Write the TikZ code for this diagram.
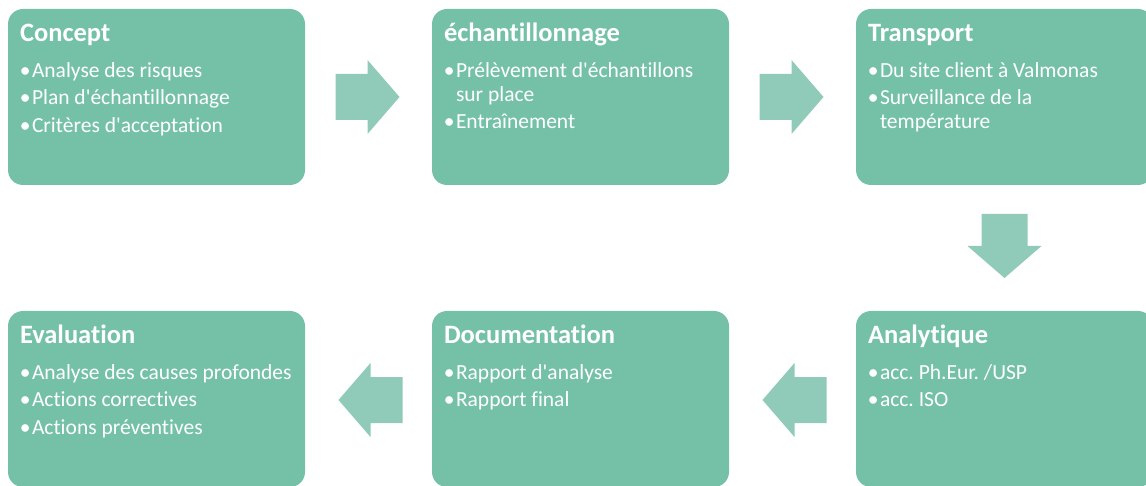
\documentclass[tikz,border=0pt]{standalone}
\usepackage{fontspec}
\setmainfont{Carlito}[Ligatures={NoCommon}]
\usetikzlibrary{calc}
\frenchspacing

\definecolor{boxgreen}{HTML}{75C1A8}
\definecolor{arrowgreen}{HTML}{8FCBB8}

\tikzset{
  x=1pt, y=1pt,
  stage/.style={rounded corners=15pt, fill=boxgreen, draw=none,
    minimum width=297pt, minimum height=176pt, inner sep=0pt},
  stagetitle/.style={anchor=base west, inner sep=0pt, text=white,
    font=\fontsize{26.5}{30}\selectfont\bfseries},
  itemtext/.style={anchor=base west, inner sep=0pt, text=white,
    font=\fontsize{21.5}{25}\selectfont},
  bulletmark/.style={anchor=base, inner sep=0pt, text=white,
    font=\fontsize{21.5}{25}\selectfont},
  blockarrow/.pic={
    \fill[arrowgreen] (-32,-23) -- (0,-23) -- (0,-37) -- (32,0)
      -- (0,37) -- (0,23) -- (-32,23) -- cycle;
  }
}

\newcommand\ap{\textquotesingle}
% title of a stage box: #1 box, #2 text
\newcommand\stagehead[2]{%
  \node[stagetitle] (#1-title) at ($(#1.north west)+(12,-33)$) {#2};}
% bulleted line: #1 box, #2 line name, #3 baseline offset, #4 text
\newcommand\stageitem[4]{%
  \node[bulletmark] (#1-#2-dot) at ($(#1.north west)+(17.5,-#3)$) {•};
  \node[itemtext] (#1-#2) at ($(#1.north west)+(24,-#3)$) {#4};}
% continuation line without bullet
\newcommand\stagewrap[4]{%
  \node[itemtext] (#1-#2) at ($(#1.north west)+(24,-#3)$) {#4};}

\begin{document}
\begin{tikzpicture}
\useasboundingbox (0,0) rectangle (1146,-486);

% stage boxes
\node[stage] (concept)   at (156.5,-97)  {};
\node[stage] (sampling)  at (580.5,-97)  {};
\node[stage] (transport) at (1004.5,-97) {};
\node[stage] (eval)      at (156.5,-399) {};
\node[stage] (docu)      at (580.5,-399) {};
\node[stage] (analytic)  at (1004.5,-399) {};

% flow arrows between the stages
\coordinate (a1) at ($(concept.east)!0.5!(sampling.west)$);
\coordinate (a2) at ($(sampling.east)!0.5!(transport.west)$);
\coordinate (a3) at ($(transport.south)!0.5!(analytic.north)$);
\coordinate (a4) at ($(analytic.west)!0.5!(docu.east)$);
\coordinate (a5) at ($(docu.west)!0.5!(eval.east)$);
\pic at ($(a1)+(-1,0)$) {blockarrow};
\pic at ($(a2)+(-1,0)$) {blockarrow};
\pic[rotate=-90] at ($(a3)+(0,2)$) {blockarrow};
\pic[rotate=180] at ($(a4)+(2,-1)$) {blockarrow};
\pic[rotate=180] at ($(a5)+(2,-1)$) {blockarrow};

% texts
\stagehead{concept}{Concept}
\stageitem{concept}{l1}{69}{Analyse des risques}
\stageitem{concept}{l2}{96}{Plan d\ap échantillonnage}
\stageitem{concept}{l3}{123.5}{Critères d\ap acceptation}

\stagehead{sampling}{échantillonnage}
\stageitem{sampling}{l1}{69}{Prélèvement d\ap échantillons}
\stagewrap{sampling}{l1b}{93}{sur place}
\stageitem{sampling}{l2}{119.5}{Entraînement}

\stagehead{transport}{Transport}
\stageitem{transport}{l1}{69}{Du site client à Valmonas}
\stageitem{transport}{l2}{96}{Surveillance de la}
\stagewrap{transport}{l2b}{120}{température}

\stagehead{eval}{Evaluation}
\stageitem{eval}{l1}{69}{Analyse des causes profondes}
\stageitem{eval}{l2}{96}{Actions correctives}
\stageitem{eval}{l3}{123.5}{Actions préventives}

\stagehead{docu}{Documentation}
\stageitem{docu}{l1}{69}{Rapport d\ap analyse}
\stageitem{docu}{l2}{96}{Rapport final}

\stagehead{analytic}{Analytique}
\stageitem{analytic}{l1}{69}{acc. Ph.Eur. /USP}
\stageitem{analytic}{l2}{96}{acc. ISO}
\end{tikzpicture}
\end{document}
